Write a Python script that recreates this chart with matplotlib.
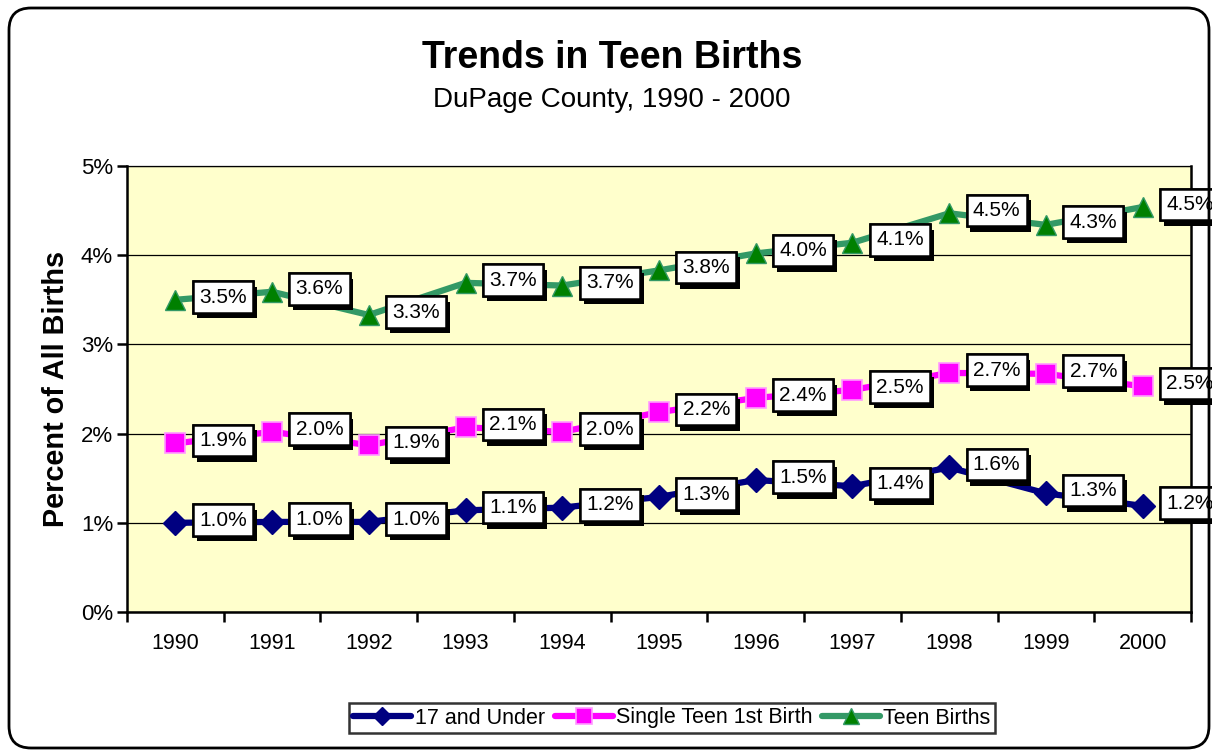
import numpy as np
import matplotlib
matplotlib.use("Agg")
import matplotlib.pyplot as plt
import matplotlib.patheffects as pe
from matplotlib.patches import FancyBboxPatch
from matplotlib.transforms import IdentityTransform

plt.rcParams['font.family'] = ['Liberation Sans', 'DejaVu Sans']

# data (percent of all births)
years = ['1990', '1991', '1992', '1993', '1994', '1995',
         '1996', '1997', '1998', '1999', '2000']
under_17 = [1.00, 1.01, 1.01, 1.14, 1.17, 1.29, 1.48, 1.41, 1.62, 1.33, 1.19]
single_teen = [1.89, 2.02, 1.87, 2.07, 2.02, 2.24, 2.40, 2.49, 2.68, 2.67, 2.53]
teen_births = [3.50, 3.59, 3.33, 3.69, 3.66, 3.83, 4.02, 4.14, 4.47, 4.34, 4.54]
series_names = ['17 and Under', 'Single Teen 1st Birth', 'Teen Births']

fig = plt.figure(figsize=(12.12, 7.51), dpi=100)
ax = fig.add_axes([127 / 1212, 1 - 612 / 751, (1191 - 127) / 1212, (612 - 166) / 751])
ax.set_facecolor('#FFFFCC')

x = np.arange(len(years))

# series styles
styles = [
    dict(color='#000080', marker='D', ms=12, mfc='#000080', mec='#000080'),
    dict(color='#FF00FF', marker='s', ms=15, mfc='#FF00FF', mec='#FF99FF', mew=1.2),
    dict(color='#339966', marker='^', ms=14, mfc='#008000', mec='#339966'),
]
all_series = [under_17, single_teen, teen_births]

for vals, name, st in zip(all_series, series_names, styles):
    ax.plot(x, vals, lw=4.5, label=name, zorder=3, solid_capstyle='round', **st)

# data labels with drop shadow boxes
for vals in all_series:
    for xi, v in zip(x, vals):
        t = ax.annotate(f"{v:.1f}%", (xi, v), xytext=(17, 2), textcoords='offset points',
                        ha='left', va='center', fontsize=15, zorder=5,
                        annotation_clip=False,
                        bbox=dict(boxstyle='square,pad=0.3', fc='white', ec='black', lw=1.8))
        t.get_bbox_patch().set_path_effects([
            pe.withSimplePatchShadow(offset=(2.8, -4), shadow_rgbFace='black', alpha=1.0),
            pe.Normal()])

# axes, ticks
ax.set_xlim(-0.5, len(years) - 0.5)
ax.set_ylim(0, 5)
ax.set_yticks([0, 1, 2, 3, 4, 5])
ax.set_yticklabels([f"{i}%" for i in range(6)], fontsize=16)
ax.set_xticks(x)
ax.set_xticklabels(years, fontsize=15.5)
ax.tick_params(axis='x', which='major', length=0, pad=15)
ax.set_xticks(np.arange(-0.5, len(years)), minor=True)
ax.tick_params(axis='x', which='minor', length=7, width=1.8, direction='out')
ax.tick_params(axis='y', length=7, width=1.8, direction='out', pad=3)
ax.grid(axis='y', color='black', lw=0.9, zorder=1)
ax.set_axisbelow(True)
for side in ['left', 'bottom', 'right']:
    ax.spines[side].set_linewidth(1.8)
ax.spines['top'].set_linewidth(0.9)

ax.set_ylabel('Percent of All Births', fontsize=20.8, fontweight='bold', labelpad=8)

fig.text(612 / 1212, 1 - 58 / 751, 'Trends in Teen Births', ha='center', va='center',
         fontsize=27, fontweight='bold')
fig.text(612 / 1212, 1 - 100 / 751, 'DuPage County, 1990 - 2000', ha='center', va='center',
         fontsize=20)

leg = fig.legend(loc='center', bbox_to_anchor=(672 / 1212, 1 - 718 / 751), ncol=3,
                 fontsize=15.5, frameon=True, fancybox=False, edgecolor='black',
                 handlelength=2.7, handletextpad=0.15, columnspacing=0.45,
                 borderpad=0.2, borderaxespad=0, markerscale=0.8)
leg.get_frame().set_linewidth(1.8)

# rounded outer chart border
border = FancyBboxPatch((9, 3), 1200, 740, boxstyle='round,pad=0,rounding_size=22',
                        transform=IdentityTransform(), fc='none', ec='black', lw=2)
fig.add_artist(border)

fig.savefig('out.png', dpi=100, facecolor='white')
